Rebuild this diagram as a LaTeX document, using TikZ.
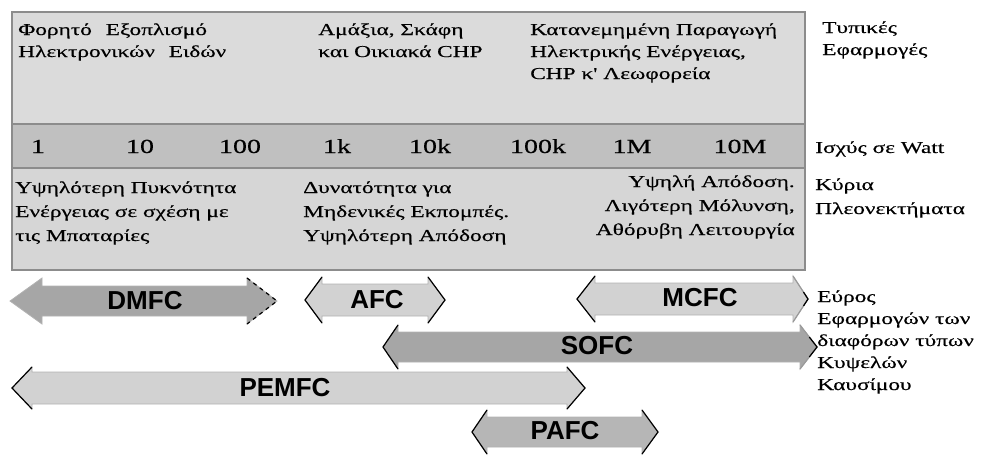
\documentclass[tikz,border=0pt]{standalone}
\usepackage{fontspec}
\setmainfont{Liberation Serif}
\newfontfamily\grfont[FakeStretch=1.4, FakeBold=0.4]{Liberation Serif}
\newfontfamily\fcfont{Liberation Sans}
\usetikzlibrary{calc}

\definecolor{bandtop}{RGB}{219,219,219}
\definecolor{bandmid}{RGB}{192,192,192}
\definecolor{bandlow}{RGB}{214,214,214}
\definecolor{fcdark}{RGB}{166,166,166}
\definecolor{fcmid}{RGB}{182,182,182}
\definecolor{fclight}{RGB}{210,210,210}

\tikzset{
  txt/.style = {font=\grfont\fontsize{12.5}{16.5}\selectfont, inner sep=0pt, align=left, anchor=base west},
  txtlow/.style = {txt, font=\grfont\fontsize{12.5}{18}\selectfont},
  num/.style = {font=\grfont\fontsize{15}{18}\selectfont, inner sep=0pt, anchor=base},
  fclabel/.style = {font=\fcfont\bfseries\fontsize{19.5}{22}\selectfont, inner sep=0pt},
  head/.style = {draw=black, line width=0.9pt},
  faint/.style = {draw=black!40, line width=0.9pt}
}

% name, fill, left tip, left head, right head, right tip, y, shaft, head
\newcommand{\fcarrow}[9]{
  \coordinate (#1-L) at (#3,#7);
  \coordinate (#1-l1) at (#4,#7-#9);
  \coordinate (#1-l2) at (#4,#7+#9);
  \coordinate (#1-R) at (#6,#7);
  \coordinate (#1-r1) at (#5,#7-#9);
  \coordinate (#1-r2) at (#5,#7+#9);
  \filldraw[fill=#2, draw=black!30, line width=0.6pt] (#1-L) -- (#1-l1) -- (#4,#7-#8) -- (#5,#7-#8)
    -- (#1-r1) -- (#1-R) -- (#1-r2) -- (#5,#7+#8) -- (#4,#7+#8) -- (#1-l2) -- cycle;
}

\begin{document}
\begin{tikzpicture}[x=0.75pt, y=-0.75pt]
  \useasboundingbox (0,0) rectangle (987,455);

  \fill[bandtop] (12,12) rectangle (805,124);
  \fill[bandmid] (12,124) rectangle (805,168);
  \fill[bandlow] (12,168) rectangle (805,270);
  \draw[black!45, line width=1.2pt] (12,124) -- (805,124) (12,168) -- (805,168);
  \draw[black!45, line width=1.5pt] (12,12) rectangle (805,270);

  % multi-line nodes sit on the baseline of their last line
  \node[txt] (app1) at (18,57) {Φορητό\hspace{6pt} Εξοπλισμό\\Ηλεκτρονικών\hspace{6pt} Ειδών};
  \node[txt] (app2) at (318,57) {Αμάξια, Σκάφη\\και Οικιακά CHP};
  \node[txt] (app3) at (530,79) {Κατανεμημένη Παραγωγή\\Ηλεκτρικής Ενέργειας,\\CHP κ' Λεωφορεία};
  \node[txt] (apps) at (822,55) {Τυπικές\\Εφαρμογές};

  \foreach \x/\p in {38/1, 140/10, 240/100, 337/1k, 430/10k, 538/100k, 632/1M, 740/10M}
    \node[num] (p\p) at (\x,153) {\p};
  \node[txt] (power) at (815,153) {Ισχύς σε Watt};

  \node[txtlow] (adv1) at (15,241) {Υψηλότερη Πυκνότητα\\Ενέργειας σε σχέση με\\τις Μπαταρίες};
  \node[txtlow] (adv2) at (303,241) {Δυνατότητα για\\Μηδενικές Εκπομπές.\\Υψηλότερη Απόδοση};
  \node[txtlow, align=right, anchor=base east] (adv3) at (795,235) {Υψηλή Απόδοση.\\Λιγότερη Μόλυνση,\\Αθόρυβη Λειτουργία};
  \node[txtlow] (advs) at (815,214) {Κύρια\\Πλεονεκτήματα};

  \fcarrow{dmfc}{fcdark}{10}{42}{247}{277}{301}{15}{23}
  \fcarrow{afc}{fclight}{305}{322}{428}{445}{300}{16}{23}
  \fcarrow{mcfc}{fclight}{577}{595}{793}{808}{299}{16}{23}
  \fcarrow{sofc}{fcdark}{383}{398}{800}{817}{347}{15}{22}
  \fcarrow{pemfc}{fclight}{12}{32}{567}{585}{388}{16}{21}
  \fcarrow{pafc}{fcmid}{472}{487}{642}{658}{432}{15}{22}

  \draw[head, dashed] (dmfc-r1) -- (dmfc-R) -- (dmfc-r2);
  \draw[head] (afc-l1) -- (afc-L) -- (afc-l2) (afc-r1) -- (afc-R) -- (afc-r2);
  \draw[head] (mcfc-l1) -- (mcfc-L) -- (mcfc-l2);
  \draw[faint] (mcfc-r1) -- (mcfc-R) -- (mcfc-r2);
  \draw[head] ($(mcfc-R)!0.3!(mcfc-r1)$) -- (mcfc-R) -- ($(mcfc-R)!0.3!(mcfc-r2)$);
  \draw[head] (sofc-l1) -- (sofc-L) -- (sofc-l2);
  \draw[faint] (sofc-r1) -- (sofc-R) -- (sofc-r2);
  \draw[head] ($(sofc-R)!0.45!(sofc-r1)$) -- (sofc-R) -- ($(sofc-R)!0.45!(sofc-r2)$);
  \draw[head] (pemfc-l1) -- (pemfc-L) -- (pemfc-l2) (pemfc-r1) -- (pemfc-R) -- (pemfc-r2);
  \draw[head] (pafc-l1) -- (pafc-L) -- (pafc-l2) (pafc-r1) -- (pafc-R) -- (pafc-r2);

  \node[fclabel] (dmfc) at (145,301) {DMFC};
  \node[fclabel] (afc) at (377,300) {AFC};
  \node[fclabel] (mcfc) at (700,298) {MCFC};
  \node[fclabel] (sofc) at (597,346) {SOFC};
  \node[fclabel] (pemfc) at (285,388) {PEMFC};
  \node[fclabel] (pafc) at (565,431) {PAFC};

  \node[txt] (range) at (817,390) {Εύρος\\Εφαρμογών των\\διαφόρων τύπων\\Κυψελών\\Καυσίμου};
\end{tikzpicture}
\end{document}
